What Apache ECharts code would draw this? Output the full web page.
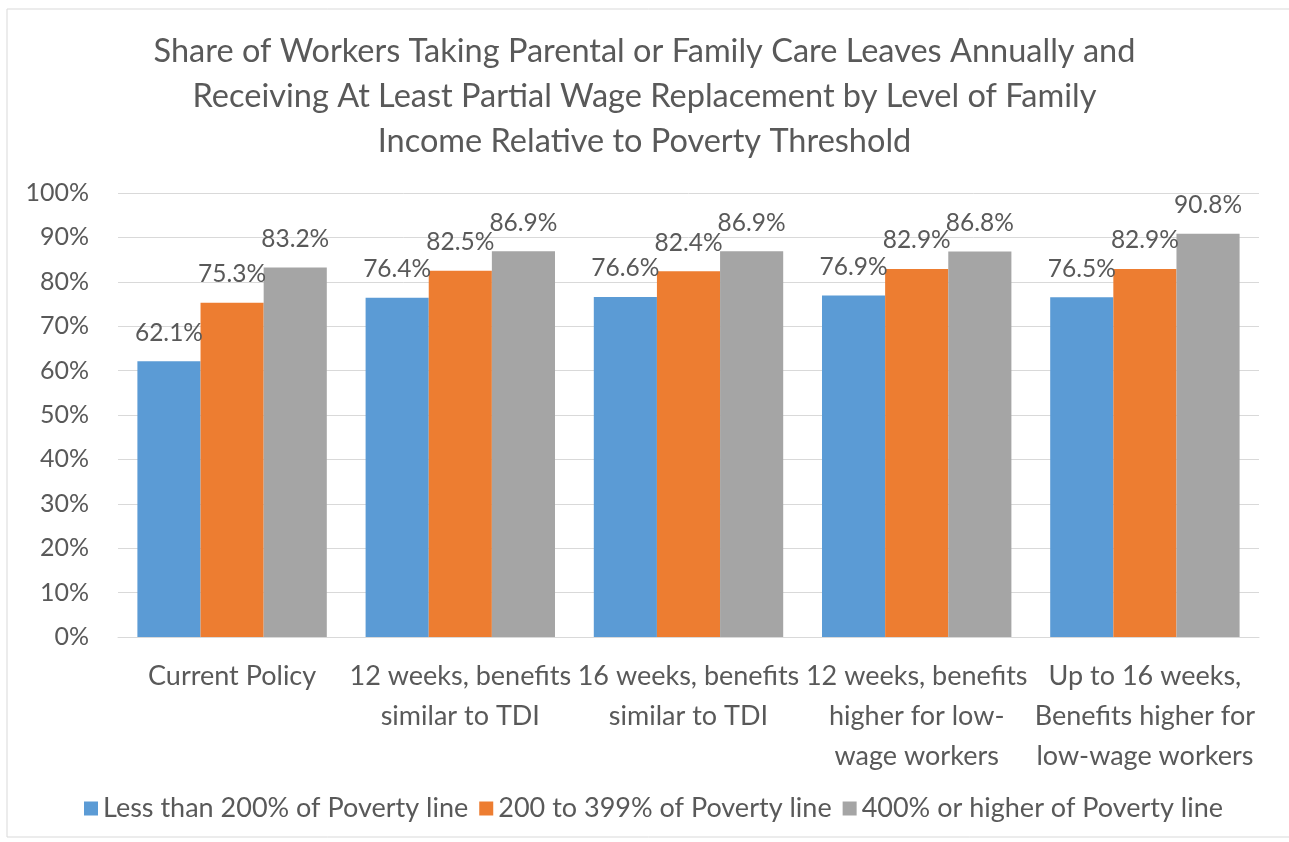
<!DOCTYPE html>
<html>
<head>
<meta charset="utf-8">
<script src="https://cdn.jsdelivr.net/npm/echarts@6/dist/echarts.min.js"></script>
<style>
  html, body { margin: 0; padding: 0; background: #fff; }
  #main { width: 1289px; height: 842px; }
</style>
</head>
<body>
<div id="main"></div>
<script>
// policy scenarios on the x axis
var categories = [
	'Current Policy',
	'12 weeks, benefits\nsimilar to TDI',
	'16 weeks, benefits\nsimilar to TDI',
	'12 weeks, benefits\nhigher for low-\nwage workers',
	'Up to 16 weeks,\nBenefits higher for\nlow-wage workers'
];
var seriesNames = ['Less than 200% of Poverty line', '200 to 399% of Poverty line', '400% or higher of Poverty line'];
var lowIncome  = [62.1, 76.4, 76.6, 76.9, 76.5];
var midIncome  = [75.3, 82.5, 82.4, 82.9, 82.9];
var highIncome = [83.2, 86.9, 86.9, 86.8, 90.8];
var yTicks = [0, 10, 20, 30, 40, 50, 60, 70, 80, 90, 100];

var colors = ['#5B9BD5', '#ED7D31', '#A5A5A5'];
var txt = '#595959';
var fnt = 'Lato';

var myChart = echarts.init(document.getElementById('main'));

function makeSeries(name, data, color){
	return {
		name: name,
		type: 'bar',
		data: data,
		barGap: '0%',
		barCategoryGap: '17%',
		itemStyle: { color: color },
		label: {
			show: true,
			position: 'top',
			distance: 16,
			color: txt,
			fontFamily: fnt,
			fontSize: 24.5,
			formatter: function(p){ return p.value.toFixed(1) + '%'; }
		}
	};
}

var option = {
	backgroundColor: '#fff',
	animation: false,
	graphic: [{
		type: 'rect',
		shape: { x: 7, y: 9, width: 1300, height: 828 },
		style: { fill: 'none', stroke: '#D9D9D9', lineWidth: 1 },
		silent: true
	}],
	title: {
		text: 'Share of Workers Taking Parental or Family Care Leaves Annually and\nReceiving At Least Partial Wage Replacement by Level of Family\nIncome Relative to Poverty Threshold',
		left: 'center',
		top: 24,
		textStyle: {
			color: txt,
			fontFamily: fnt,
			fontWeight: 'normal',
			fontSize: 32.5,
			lineHeight: 45
		}
	},
	legend: {
		bottom: 15,
		left: 79,
		itemWidth: 14,
		itemHeight: 14,
		itemGap: 11,
		icon: 'rect',
		data: seriesNames,
		textStyle: { color: txt, fontFamily: fnt, fontSize: 27 }
	},
	grid: { left: 118, right: 30, top: 193, bottom: 205, containLabel: false },
	xAxis: {
		type: 'category',
		data: categories,
		axisLine: { lineStyle: { color: '#D9D9D9' } },
		axisTick: { show: false },
		axisLabel: {
			color: txt,
			fontFamily: fnt,
			fontSize: 27,
			lineHeight: 40,
			margin: 19,
			interval: 0,
			align: 'center'
		}
	},
	yAxis: {
		type: 'value',
		min: yTicks[0],
		max: yTicks[yTicks.length - 1],
		interval: 10,
		axisLine: { show: false },
		axisTick: { show: false },
		splitLine: { lineStyle: { color: '#D9D9D9' } },
		axisLabel: {
			color: txt,
			fontFamily: fnt,
			fontSize: 25,
			margin: 29,
			formatter: '{value}%'
		}
	},
	series: [
		makeSeries(seriesNames[0], lowIncome, colors[0]),
		makeSeries(seriesNames[1], midIncome, colors[1]),
		makeSeries(seriesNames[2], highIncome, colors[2])
	]
};

myChart.setOption(option);
</script>
</body>
</html>
